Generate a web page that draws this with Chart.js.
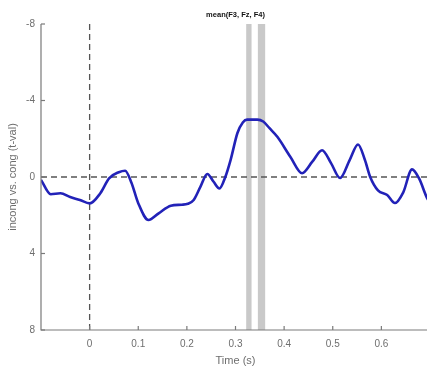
<!DOCTYPE html>
<html>
<head>
<meta charset="utf-8">
<script src="https://cdn.jsdelivr.net/npm/chart.js@4.4.0/dist/chart.umd.min.js"></script>
<style>
  html, body { margin: 0; padding: 0; background: #fff; overflow: hidden; }
  #wrap { width: 430px; height: 370px; }
</style>
</head>
<body>
<div id="wrap"><canvas id="c" width="430" height="370"></canvas></div>
<script>
// Data
const times = [-0.1, -0.08, -0.06, -0.04, -0.02, 0.0, 0.022, 0.04, 0.06, 0.073, 0.086, 0.1, 0.121, 0.142, 0.167, 0.19, 0.202, 0.214, 0.228, 0.242, 0.255, 0.267, 0.279, 0.29, 0.304, 0.315, 0.324, 0.345, 0.357, 0.37, 0.386, 0.413, 0.437, 0.458, 0.478, 0.497, 0.515, 0.535, 0.552, 0.566, 0.577, 0.593, 0.612, 0.628, 0.645, 0.663, 0.678, 0.694, 0.7];
const tvals = [0.15, 0.9, 0.85, 1.05, 1.2, 1.38, 0.85, 0.07, -0.25, -0.33, 0.3, 1.37, 2.25, 1.9, 1.5, 1.45, 1.4, 1.2, 0.5, -0.16, 0.25, 0.6, 0.0, -0.9, -2.3, -2.85, -3.0, -3.0, -2.9, -2.55, -2.1, -1.05, -0.2, -0.8, -1.4, -0.7, 0.05, -0.9, -1.7, -0.9, 0.0, 0.7, 0.94, 1.36, 0.8, -0.4, 0.1, 1.1, 1.3];
const xTicks = [0, 0.1, 0.2, 0.3, 0.4, 0.5, 0.6];
const yTicks = [-8, -4, 0, 4, 8];
const sigWindows = [[0.322, 0.333], [0.346, 0.361]];
const titleText = 'mean(F3, Fz, F4)';
const xTitle = 'Time (s)';
const yTitle = 'incong vs. cong (t-val)';

const points = times.map((t, i) => ({ x: t, y: tvals[i] }));

const decor = {
  id: 'decor',
  beforeDatasetsDraw(chart) {
    const { ctx, chartArea: a, scales: { x, y } } = chart;
    ctx.save();
    // significance windows
    ctx.fillStyle = '#c9c9c9';
    sigWindows.forEach(([s, e]) => {
      const x0 = x.getPixelForValue(s), x1 = x.getPixelForValue(e);
      ctx.fillRect(x0, a.top, x1 - x0, a.bottom - a.top);
    });
    // dashed zero lines
    ctx.strokeStyle = '#555';
    ctx.lineWidth = 1.3;
    ctx.setLineDash([6, 4]);
    const y0 = y.getPixelForValue(0);
    ctx.beginPath(); ctx.moveTo(a.left, y0); ctx.lineTo(a.right, y0); ctx.stroke();
    const x0 = x.getPixelForValue(0);
    ctx.beginPath(); ctx.moveTo(x0, a.top); ctx.lineTo(x0, a.bottom); ctx.stroke();
    ctx.setLineDash([]);
    ctx.restore();
  },
  afterDraw(chart) {
    const { ctx, chartArea: a, scales: { x, y } } = chart;
    ctx.save();
    // axis lines
    ctx.strokeStyle = '#7a7a7a';
    ctx.lineWidth = 1.2;
    ctx.beginPath();
    ctx.moveTo(a.left, a.top); ctx.lineTo(a.left, a.bottom); ctx.lineTo(a.right, a.bottom);
    ctx.stroke();
    // inward ticks
    xTicks.forEach(v => {
      const px = x.getPixelForValue(v);
      ctx.beginPath(); ctx.moveTo(px, a.bottom); ctx.lineTo(px, a.bottom - 4); ctx.stroke();
    });
    yTicks.forEach(v => {
      const py = y.getPixelForValue(v);
      ctx.beginPath(); ctx.moveTo(a.left, py); ctx.lineTo(a.left + 4, py); ctx.stroke();
    });
    // title
    ctx.fillStyle = '#111';
    ctx.font = 'bold 7.5px "Liberation Sans", Arial, sans-serif';
    ctx.textAlign = 'center';
    ctx.textBaseline = 'middle';
    ctx.fillText(titleText, (a.left + a.right) / 2, 15);
    ctx.restore();
  }
};

new Chart(document.getElementById('c'), {
  type: 'line',
  data: {
    datasets: [{
      data: points,
      borderColor: '#2222b8',
      borderWidth: 2.6,
      pointRadius: 0,
      cubicInterpolationMode: 'monotone',
      fill: false
    }]
  },
  options: {
    responsive: false,
    animation: false,
    events: [],
    layout: { padding: { top: 24, right: 0, left: 0, bottom: 0 } },
    plugins: { legend: { display: false }, tooltip: { enabled: false }, title: { display: false } },
    scales: {
      x: {
        type: 'linear',
        min: -0.1,
        max: 0.7,
        afterBuildTicks(s) { s.ticks = xTicks.map(v => ({ value: v })); },
        afterFit(s) { s.height = 40; },
        grid: { display: false, drawTicks: false },
        border: { display: false },
        ticks: {
          padding: 8,
          color: '#6e6e6e',
          font: { family: '"Liberation Sans", Arial, sans-serif', size: 10 },
          callback: v => String(v)
        },
        title: {
          display: true,
          text: xTitle,
          color: '#6e6e6e',
          font: { family: '"Liberation Sans", Arial, sans-serif', size: 11 },
          padding: { top: 2, bottom: 2 }
        }
      },
      y: {
        type: 'linear',
        min: -8,
        max: 8,
        reverse: true,
        afterBuildTicks(s) { s.ticks = yTicks.map(v => ({ value: v })); },
        afterFit(s) { s.width = 41; },
        grid: { display: false, drawTicks: false },
        border: { display: false },
        ticks: {
          padding: 6,
          color: '#6e6e6e',
          font: { family: '"Liberation Sans", Arial, sans-serif', size: 10 }
        },
        title: {
          display: true,
          text: yTitle,
          color: '#6e6e6e',
          font: { family: '"Liberation Sans", Arial, sans-serif', size: 11 },
          padding: { top: 6, bottom: 0 }
        }
      }
    }
  },
  plugins: [decor]
});
</script>
</body>
</html>
